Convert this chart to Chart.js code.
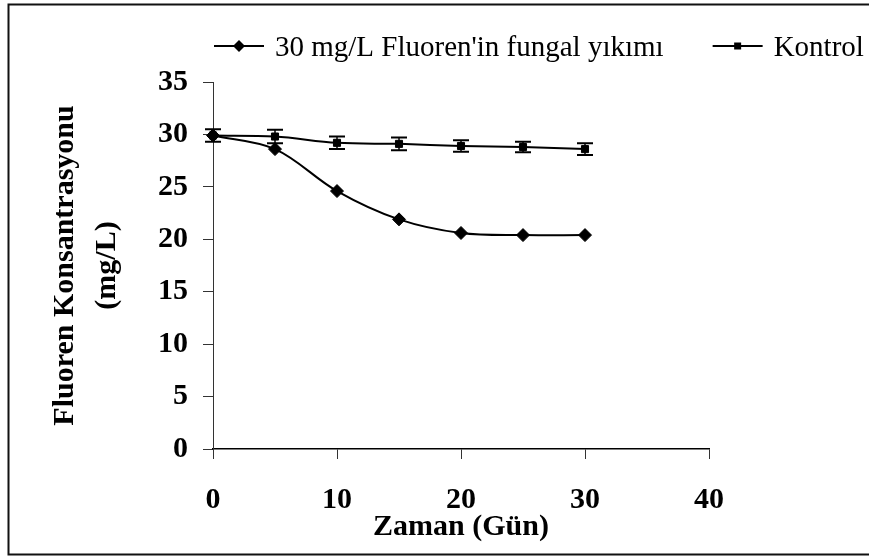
<!DOCTYPE html>
<html>
<head>
<meta charset="utf-8">
<title>Fluoren Konsantrasyonu</title>
<script src="https://cdn.jsdelivr.net/npm/chart.js@4.4.1/dist/chart.umd.min.js"></script>
<style>
  html, body { margin: 0; padding: 0; background: #ffffff; }
  #wrap { width: 869px; height: 556px; }
</style>
</head>
<body>
<div id="wrap"><canvas id="c" width="869" height="556"></canvas></div>
<script>
// Sampling days and measured concentrations (mg/L)
const days = [0, 5, 10, 15, 20, 25, 30];
const fungalValues = [29.9, 28.6, 24.6, 21.9, 20.6, 20.4, 20.4];
const kontrolValues = [29.9, 29.8, 29.2, 29.1, 28.9, 28.8, 28.6];
const kontrolErrors = [0.6, 0.65, 0.6, 0.6, 0.55, 0.5, 0.55];

// Axis ticks and texts
const xTicks = [0, 10, 20, 30, 40];
const yTicks = [0, 5, 10, 15, 20, 25, 30, 35];
const seriesLabels = ["30 mg/L Fluoren'in fungal yıkımı", "Kontrol"];
const xTitle = "Zaman (Gün)";
const yTitle = ["Fluoren Konsantrasyonu", "(mg/L)"];

const SERIF = "'Liberation Serif', 'Times New Roman', serif";
Chart.defaults.font.family = SERIF;
Chart.defaults.color = '#000';

const toPoints = (vals) => vals.map((v, i) => ({ x: days[i], y: v }));

// Vertical error bars with caps for the control series
const errorBars = {
  id: 'errorBars',
  afterDatasetsDraw(chart) {
    const { ctx, scales: { x, y } } = chart;
    ctx.save();
    ctx.strokeStyle = '#000';
    days.forEach((d, i) => {
      const px = x.getPixelForValue(d);
      const top = y.getPixelForValue(kontrolValues[i] + kontrolErrors[i]);
      const bot = y.getPixelForValue(kontrolValues[i] - kontrolErrors[i]);
      ctx.lineWidth = 1.5;
      ctx.beginPath();
      ctx.moveTo(px, top); ctx.lineTo(px, bot);
      ctx.stroke();
      ctx.lineWidth = 2;
      ctx.beginPath();
      ctx.moveTo(px - 8, top); ctx.lineTo(px + 8, top);
      ctx.moveTo(px - 8, bot); ctx.lineTo(px + 8, bot);
      ctx.stroke();
    });
    ctx.restore();
  }
};

// Line-and-marker legend across the top, plus the outer frame
const legendFrame = {
  id: 'legendFrame',
  afterDraw(chart) {
    const { ctx } = chart;
    ctx.save();
    ctx.font = '29px ' + SERIF;
    ctx.fillStyle = '#000';
    ctx.strokeStyle = '#000';
    ctx.textBaseline = 'alphabetic';
    const lineY = 46, baseY = 56, symW = 50, gap = 11;
    let x = 214;
    chart.data.datasets.forEach((ds, i) => {
      ctx.lineWidth = 2;
      ctx.beginPath();
      ctx.moveTo(x, lineY); ctx.lineTo(x + symW, lineY);
      ctx.stroke();
      const cx = x + symW / 2;
      ctx.beginPath();
      if (ds.pointStyle === 'rectRot') {
        ctx.moveTo(cx - 6, lineY); ctx.lineTo(cx, lineY - 6);
        ctx.lineTo(cx + 6, lineY); ctx.lineTo(cx, lineY + 6);
        ctx.closePath();
      } else {
        ctx.rect(cx - 3.5, lineY - 3.5, 7, 7);
      }
      ctx.fill();
      const tx = x + symW + gap;
      ctx.fillText(ds.label, tx, baseY);
      x = tx + ctx.measureText(ds.label).width + 49;
    });
    // frame (open on the right edge)
    ctx.lineWidth = 2;
    ctx.strokeStyle = '#111';
    ctx.beginPath();
    ctx.moveTo(875, 4.5); ctx.lineTo(8.5, 4.5);
    ctx.lineTo(8.5, 554.5); ctx.lineTo(875, 554.5);
    ctx.stroke();
    ctx.restore();
  }
};

new Chart(document.getElementById('c'), {
  type: 'line',
  data: {
    datasets: [
      {
        label: seriesLabels[0],
        data: toPoints(fungalValues),
        borderColor: '#000',
        backgroundColor: '#000',
        borderWidth: 2,
        tension: 0.35,
        pointStyle: 'rectRot',
        pointRadius: 6.5,
        pointBorderWidth: 1,
        clip: false
      },
      {
        label: seriesLabels[1],
        data: toPoints(kontrolValues),
        borderColor: '#000',
        backgroundColor: '#000',
        borderWidth: 2,
        tension: 0.35,
        pointStyle: 'rect',
        pointRadius: 5,
        pointBorderWidth: 1,
        clip: false
      }
    ]
  },
  options: {
    responsive: false,
    animation: false,
    devicePixelRatio: 1,
    layout: { padding: { top: 82, right: 160, left: 0, bottom: 0 } },
    plugins: {
      legend: { display: false },
      tooltip: { enabled: false }
    },
    scales: {
      x: {
        type: 'linear',
        min: 0,
        max: 40,
        afterBuildTicks: (s) => { s.ticks = xTicks.map(v => ({ value: v })); },
        afterFit: (s) => { s.height = 107; },
        grid: { drawOnChartArea: false, drawTicks: true, tickLength: 10, color: '#333', lineWidth: 1 },
        border: { display: true, color: '#000', width: 1.5 },
        ticks: { padding: 23, font: { size: 30, weight: 'bold' }, color: '#000' },
        title: {
          display: true,
          text: xTitle,
          font: { size: 30, weight: 'bold', lineHeight: 1.2 },
          padding: { top: 0, bottom: 11 },
          color: '#000'
        }
      },
      y: {
        type: 'linear',
        min: 0,
        max: 35,
        afterBuildTicks: (s) => { s.ticks = yTicks.map(v => ({ value: v })); },
        afterFit: (s) => { s.width = 213; },
        grid: { drawOnChartArea: false, drawTicks: true, tickLength: 10, color: '#333', lineWidth: 1 },
        border: { display: true, color: '#333', width: 1 },
        ticks: { padding: 15, font: { size: 30, weight: 'bold' }, color: '#000' },
        title: {
          display: true,
          text: yTitle,
          font: { size: 30, weight: 'bold', lineHeight: 1.4 },
          padding: { top: 44, bottom: 0 },
          color: '#000'
        }
      }
    }
  },
  plugins: [errorBars, legendFrame]
});
</script>
</body>
</html>
